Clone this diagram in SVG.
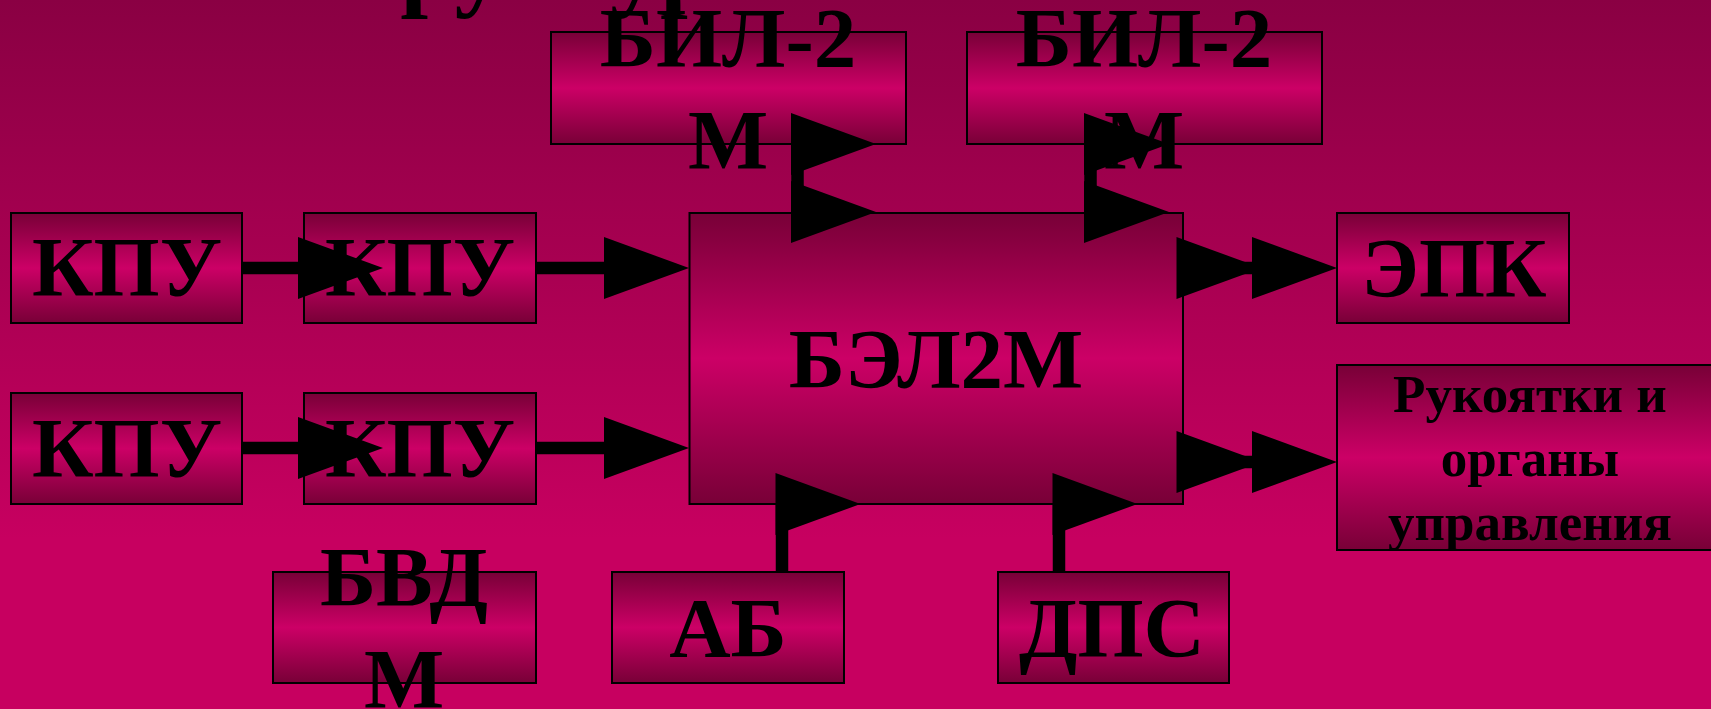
<svg xmlns="http://www.w3.org/2000/svg" width="1711" height="709" viewBox="0 0 1711 709">
<defs>
<linearGradient id="bg" x1="0" y1="0" x2="0" y2="1">
<stop offset="0" stop-color="#8A0043"/>
<stop offset="0.76" stop-color="#C70060"/>
<stop offset="1" stop-color="#C70060"/>
</linearGradient>
<linearGradient id="box" x1="0" y1="0" x2="0" y2="1">
<stop offset="0" stop-color="#780037"/>
<stop offset="0.5" stop-color="#CC0066"/>
<stop offset="1" stop-color="#780037"/>
</linearGradient>
<marker id="a0" markerUnits="userSpaceOnUse" markerWidth="86" markerHeight="62" refX="0" refY="31" orient="0" overflow="visible">
<path d="M0,0 L85,31 L0,62 Z" fill="#000"/>
</marker>
<marker id="a1" markerUnits="userSpaceOnUse" markerWidth="86" markerHeight="62" refX="6.5" refY="31" orient="0" overflow="visible">
<path d="M0,0 L85,31 L0,62 Z" fill="#000"/>
</marker>
<style>
.n rect{fill:url(#box);stroke:#000;stroke-width:2}
.t{font-family:"Liberation Serif","Times New Roman",serif;font-weight:bold;font-size:85px;fill:#000;text-anchor:middle}
.s{font-size:53px}
#conn line{stroke:#000;stroke-width:12.5;fill:none}
</style>
</defs>
<rect x="0" y="0" width="1711" height="709" fill="url(#bg)"/>
<text class="t" x="279" y="-2" style="font-size:100px;text-anchor:start">Структурная схема</text>

<g id="bil1" class="n"><rect x="551" y="32" width="355" height="112"/><text class="t" x="728" y="67">БИЛ-2</text><text class="t" x="728" y="169">М</text></g>
<g id="bil2" class="n"><rect x="967" y="32" width="355" height="112"/><text class="t" x="1144" y="67">БИЛ-2</text><text class="t" x="1144" y="169">М</text></g>
<g id="kpu1" class="n"><rect x="11" y="213" width="231" height="110"/><text class="t" x="127" y="296">КПУ</text></g>
<g id="kpu2" class="n"><rect x="304" y="213" width="232" height="110"/><text class="t" x="420" y="296">КПУ</text></g>
<g id="kpu3" class="n"><rect x="11" y="393" width="231" height="111"/><text class="t" x="127" y="477">КПУ</text></g>
<g id="kpu4" class="n"><rect x="304" y="393" width="232" height="111"/><text class="t" x="420" y="477">КПУ</text></g>
<g id="bel2m" class="n"><rect x="689.5" y="213" width="493.5" height="291"/><text class="t" x="936" y="388">БЭЛ2М</text></g>
<g id="epk" class="n"><rect x="1337" y="213" width="232" height="110"/><text class="t" x="1454" y="297">ЭПК</text></g>
<g id="ruk" class="n"><rect x="1337" y="365" width="390" height="185"/><text class="t s" x="1530" y="412">Рукоятки и</text><text class="t s" x="1530" y="476">органы</text><text class="t s" x="1530" y="540">управления</text></g>
<g id="bvdm" class="n"><rect x="273" y="572" width="263" height="111"/><text class="t" x="404" y="606">БВД</text><text class="t" x="404" y="708">М</text></g>
<g id="ab" class="n"><rect x="612" y="572" width="232" height="111"/><text class="t" x="728" y="657">АБ</text></g>
<g id="dps" class="n"><rect x="998" y="572" width="231" height="111"/><text class="t" x="1112" y="657">ДПС</text></g>

<g id="conn">
<line x1="242" y1="268" x2="298" y2="268" marker-end="url(#a0)"/>
<line x1="536" y1="268" x2="604" y2="268" marker-end="url(#a0)"/>
<line x1="242" y1="448" x2="298" y2="448" marker-end="url(#a0)"/>
<line x1="536" y1="448" x2="604" y2="448" marker-end="url(#a0)"/>
<line x1="797.5" y1="144" x2="797.5" y2="212" marker-start="url(#a1)" marker-end="url(#a1)"/>
<line x1="1090.5" y1="144" x2="1090.5" y2="212" marker-start="url(#a1)" marker-end="url(#a1)"/>
<line x1="1183" y1="268" x2="1252" y2="268" marker-start="url(#a1)" marker-end="url(#a0)"/>
<line x1="1183" y1="462" x2="1252" y2="462" marker-start="url(#a1)" marker-end="url(#a0)"/>
<line x1="782" y1="572" x2="782" y2="504" marker-end="url(#a1)"/>
<line x1="1059" y1="572" x2="1059" y2="504" marker-end="url(#a1)"/>
</g>
</svg>
